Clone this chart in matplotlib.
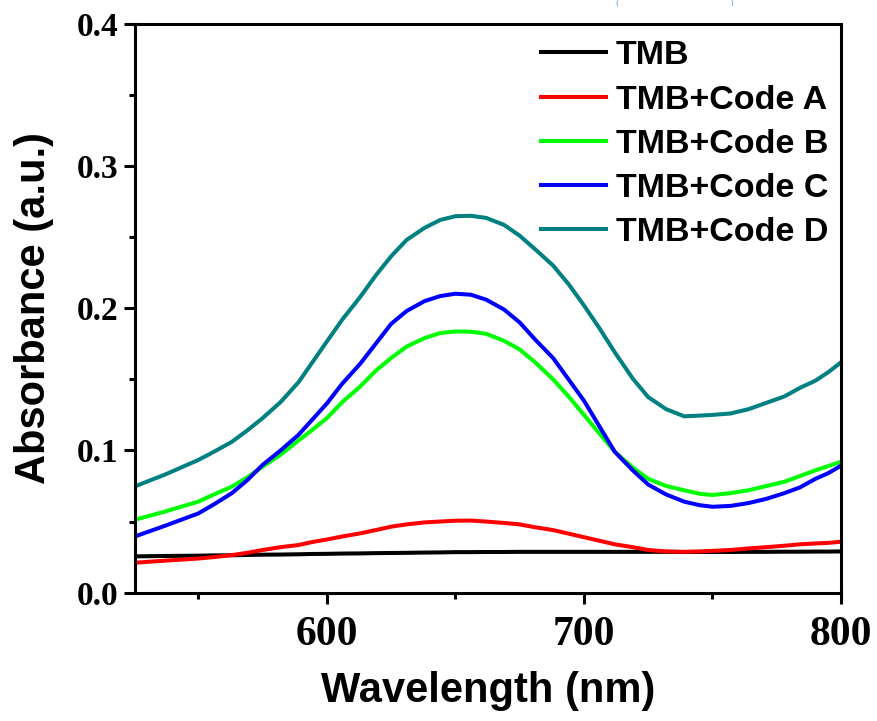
import matplotlib
matplotlib.use('Agg')
import matplotlib.pyplot as plt
from matplotlib.ticker import MultipleLocator

# wavelength grid (nm)
wavelength = [525, 537, 550, 556, 563, 569, 575, 582, 589, 594,
              600, 606, 613, 619, 625, 631, 638, 644, 650, 656,
              662, 669, 675, 681, 688, 694, 700, 706, 712, 719,
              725, 732, 739, 745, 750, 757, 764, 771, 778, 784,
              790, 795, 800]

tmb = [0.0255, 0.0258, 0.0260, 0.0262, 0.0263, 0.0265, 0.0267, 0.0268, 0.0270, 0.0272,
       0.0273, 0.0275, 0.0276, 0.0278, 0.0279, 0.0280, 0.0282, 0.0283, 0.0285, 0.0285,
       0.0286, 0.0286, 0.0287, 0.0287, 0.0287, 0.0287, 0.0287, 0.0287, 0.0287, 0.0287,
       0.0287, 0.0287, 0.0286, 0.0286, 0.0286, 0.0286, 0.0287, 0.0287, 0.0288, 0.0288,
       0.0289, 0.0289, 0.0290]
code_a = [0.0210, 0.0225, 0.0240, 0.0250, 0.0264, 0.0280, 0.0300, 0.0320, 0.0335, 0.0355,
          0.0374, 0.0395, 0.0417, 0.0440, 0.0464, 0.0480, 0.0494, 0.0500, 0.0506, 0.0507,
          0.0500, 0.0490, 0.0480, 0.0460, 0.0440, 0.0415, 0.0390, 0.0365, 0.0340, 0.0320,
          0.0300, 0.0290, 0.0287, 0.0290, 0.0294, 0.0300, 0.0311, 0.0320, 0.0330, 0.0340,
          0.0346, 0.0350, 0.0358]
code_b = [0.0511, 0.0570, 0.0640, 0.0690, 0.0745, 0.0810, 0.0886, 0.0970, 0.1070, 0.1140,
          0.1227, 0.1340, 0.1450, 0.1560, 0.1650, 0.1730, 0.1790, 0.1825, 0.1837, 0.1835,
          0.1820, 0.1770, 0.1710, 0.1620, 0.1500, 0.1380, 0.1250, 0.1120, 0.0990, 0.0880,
          0.0800, 0.0750, 0.0720, 0.0695, 0.0687, 0.0700, 0.0720, 0.0750, 0.0780, 0.0820,
          0.0860, 0.0890, 0.0920]
code_c = [0.0393, 0.0470, 0.0557, 0.0620, 0.0699, 0.0790, 0.0898, 0.1000, 0.1110, 0.1210,
          0.1330, 0.1470, 0.1610, 0.1750, 0.1890, 0.1980, 0.2050, 0.2085, 0.2102, 0.2095,
          0.2060, 0.1990, 0.1900, 0.1780, 0.1650, 0.1500, 0.1350, 0.1170, 0.0990, 0.0860,
          0.0760, 0.0690, 0.0640, 0.0615, 0.0604, 0.0610, 0.0630, 0.0660, 0.0700, 0.0740,
          0.0800, 0.0840, 0.0893]
code_d = [0.0745, 0.0830, 0.0933, 0.0990, 0.1060, 0.1140, 0.1227, 0.1340, 0.1480, 0.1610,
          0.1766, 0.1920, 0.2080, 0.2230, 0.2365, 0.2480, 0.2565, 0.2620, 0.2647, 0.2650,
          0.2635, 0.2585, 0.2510, 0.2415, 0.2300, 0.2170, 0.2020, 0.1860, 0.1690, 0.1505,
          0.1375, 0.1290, 0.1240, 0.1245, 0.1250, 0.1260, 0.1290, 0.1335, 0.1380, 0.1440,
          0.1490, 0.1550, 0.1620]

series = [tmb, code_a, code_b, code_c, code_d]
labels = ['TMB', 'TMB+Code A', 'TMB+Code B', 'TMB+Code C', 'TMB+Code D']
colors = ['#000000', '#ff0000', '#00ff00', '#0000ff', '#008080']

fig = plt.figure(figsize=(8.77, 7.21), dpi=100)
ax = fig.add_axes([0.154, 0.178, 0.805, 0.789])

for ys, lab, col in zip(series, labels, colors):
    ax.plot(wavelength, ys, color=col, lw=2.9, label=lab)

ax.set_xlim(525.4, 800)
ax.set_ylim(0, 0.4)
ax.xaxis.set_major_locator(MultipleLocator(100))
ax.xaxis.set_minor_locator(MultipleLocator(50))
ax.yaxis.set_major_locator(MultipleLocator(0.1))
ax.yaxis.set_minor_locator(MultipleLocator(0.05))

for s in ax.spines.values():
    s.set_linewidth(2.2)
ax.tick_params(which='major', direction='out', length=8, width=2.2, top=False, right=False)
ax.tick_params(which='minor', direction='out', length=4.5, width=2.2, top=False, right=False)
ax.tick_params(axis='x', pad=9)
ax.tick_params(axis='y', pad=4)

for t in ax.get_xticklabels():
    t.set_fontfamily('Liberation Serif')
    t.set_fontweight('bold')
    t.set_fontsize(30)
for t in ax.get_yticklabels():
    t.set_fontfamily('Liberation Serif')
    t.set_fontweight('bold')
    t.set_fontsize(24)

ax.set_xlabel('Wavelength (nm)', fontfamily='Liberation Sans', fontweight='bold',
              fontsize=30, labelpad=12)
ax.set_ylabel('Absorbance (a.u.)', fontfamily='Liberation Sans', fontweight='bold',
              fontsize=30, labelpad=16)

leg = ax.legend(loc='upper right', bbox_to_anchor=(0.982, 0.971), frameon=False,
                prop={'family': 'Liberation Sans', 'weight': 'bold', 'size': 24.5},
                handlelength=1.9, handletextpad=0.3, labelspacing=0.39,
                borderaxespad=0, borderpad=0)

# small blue fragment (parentheses) at the very top of the reference
fig.text(617 / 877, 1.0, '(', color='#4a90d9', fontsize=5, ha='center', va='top')
fig.text(732 / 877, 1.0, ')', color='#4a90d9', fontsize=5, ha='center', va='top')

fig.savefig('out.png', dpi=100)
